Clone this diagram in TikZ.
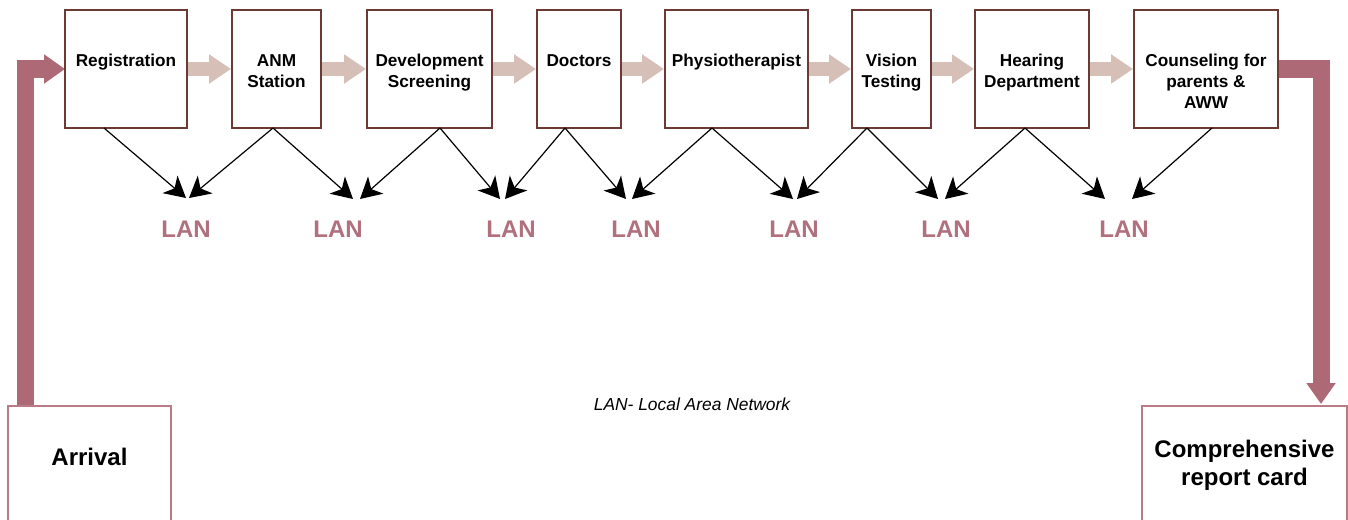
\documentclass[tikz,border=0pt]{standalone}
\usepackage{fontspec}
\setmainfont{Liberation Sans}
\usetikzlibrary{arrows.meta}
\definecolor{boxbrown}{HTML}{6B3A35}
\definecolor{mauve}{HTML}{AD6A76}
\definecolor{lightflow}{HTML}{D5BFB7}
\definecolor{lantext}{HTML}{B0707D}
\definecolor{endborder}{HTML}{BA7B86}
\begin{document}
\begin{tikzpicture}[x=1pt,y=-1pt,
 stationbox/.style={draw=boxbrown, line width=2pt, fill=white, inner sep=0pt, minimum height=118pt},
 stationlabel/.style={font=\fontsize{17.2}{21}\selectfont\bfseries, align=center, inner sep=0pt, anchor=north},
 endbox/.style={draw=endborder, line width=2pt, inner sep=0pt, minimum height=130pt, anchor=north},
 endlabel/.style={font=\fontsize{24}{28}\selectfont\bfseries, align=center, inner sep=0pt},
 lanlabel/.style={font=\fontsize{24}{28}\selectfont\bfseries, text=lantext, inner sep=0pt},
 legend/.style={font=\fontsize{17.4}{20}\selectfont\itshape, inner sep=0pt},
 flowarrow/.style={draw=lightflow, line width=14pt, -{Triangle[length=22pt,width=28pt]}},
 mainarrow/.style={draw=mauve, line width=17pt, line join=miter, -{Triangle[length=21pt,width=28pt]}},
 lanarrow/.style={draw=black, line width=1.2pt, -{Stealth[length=21pt,width=23pt,inset=6pt]}},
]
\clip (0,0) rectangle (1348,519);

% end boxes
\node[endbox, minimum width=163pt] (arr) at (89.5,405) {};
\node[endbox, minimum width=205pt] (rep) at (1244.5,405) {};
\node[endlabel] (arrtxt) at (89.5,457) {Arrival};
\node[endlabel, anchor=north] (reptxt) at (1244.5,440) {Comprehensive\\report card};

% main thick arrows
\coordinate (lstart) at (25,405);
\coordinate (rend) at (1321,404);
\draw[mainarrow] (lstart) |- (65,69);
\draw[mainarrow] (1278,69) -| (rend);

% station boxes
\node[stationbox, minimum width=122pt] (reg) at (126,69) {};
\node[stationbox, minimum width=89pt]  (anm) at (276.5,69) {};
\node[stationbox, minimum width=125pt] (dev) at (429.5,69) {};
\node[stationbox, minimum width=84pt]  (doc) at (579,69) {};
\node[stationbox, minimum width=143pt] (phy) at (736.5,69) {};
\node[stationbox, minimum width=79pt]  (vis) at (891.5,69) {};
\node[stationbox, minimum width=114pt] (hea) at (1032,69) {};
\node[stationbox, minimum width=144pt] (cou) at (1206,69) {};

\node[stationlabel] (regt) at (126,54) {Registration};
\node[stationlabel] (anmt) at (276.5,54) {ANM\\Station};
\node[stationlabel] (devt) at (429.5,54) {Development\\Screening};
\node[stationlabel] (doct) at (579,54) {Doctors};
\node[stationlabel] (phyt) at (736.5,54) {Physiotherapist};
\node[stationlabel] (vist) at (891.5,54) {Vision\\Testing};
\node[stationlabel] (heat) at (1032,54) {Hearing\\Department};
\node[stationlabel] (cout) at (1206,54) {Counseling for\\parents \&\\AWW};

% flow arrows
\draw[flowarrow] (reg.east) -- (anm.west);
\draw[flowarrow] (anm.east) -- (dev.west);
\draw[flowarrow] (dev.east) -- (doc.west);
\draw[flowarrow] (doc.east) -- (phy.west);
\draw[flowarrow] (phy.east) -- (vis.west);
\draw[flowarrow] (vis.east) -- (hea.west);
\draw[flowarrow] (hea.east) -- (cou.west);

% LAN labels
\node[lanlabel] (lan1) at (186,229) {LAN};
\node[lanlabel] (lan2) at (338,229) {LAN};
\node[lanlabel] (lan3) at (511,229) {LAN};
\node[lanlabel] (lan4) at (636,229) {LAN};
\node[lanlabel] (lan5) at (794,229) {LAN};
\node[lanlabel] (lan6) at (946,229) {LAN};
\node[lanlabel] (lan7) at (1124,229) {LAN};

% origins of LAN connectors
\coordinate (oreg) at (104,128);
\coordinate (oanm) at (273,128);
\coordinate (odev) at (440,128);
\coordinate (odoc) at (565,128);
\coordinate (ophy) at (712,128);
\coordinate (ovis) at (867,128);
\coordinate (ohea) at (1025,128);
\coordinate (ocou) at (1212,128);
% tips
\coordinate (t1a) at (186,198); \coordinate (t1b) at (189,198);
\coordinate (t2a) at (353,199); \coordinate (t2b) at (360,199);
\coordinate (t3a) at (500,199); \coordinate (t3b) at (505,199);
\coordinate (t4a) at (626,199); \coordinate (t4b) at (632,199);
\coordinate (t5a) at (793,199); \coordinate (t5b) at (797,199);
\coordinate (t6a) at (938,199); \coordinate (t6b) at (945,199);
\coordinate (t7a) at (1105,199); \coordinate (t7b) at (1132,199);

\draw[lanarrow] (oreg) -- (t1a);
\draw[lanarrow] (oanm) -- (t1b);
\draw[lanarrow] (oanm) -- (t2a);
\draw[lanarrow] (odev) -- (t2b);
\draw[lanarrow] (odev) -- (t3a);
\draw[lanarrow] (odoc) -- (t3b);
\draw[lanarrow] (odoc) -- (t4a);
\draw[lanarrow] (ophy) -- (t4b);
\draw[lanarrow] (ophy) -- (t5a);
\draw[lanarrow] (ovis) -- (t5b);
\draw[lanarrow] (ovis) -- (t6a);
\draw[lanarrow] (ohea) -- (t6b);
\draw[lanarrow] (ohea) -- (t7a);
\draw[lanarrow] (ocou) -- (t7b);

% legend
\node[legend] (legendtxt) at (692,404) {LAN- Local Area Network};
\end{tikzpicture}
\end{document}
